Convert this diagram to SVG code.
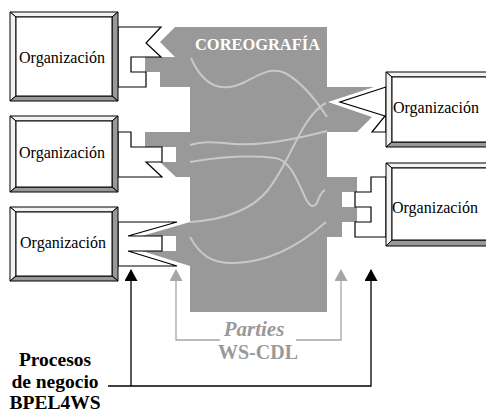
<svg xmlns="http://www.w3.org/2000/svg" width="486" height="412" viewBox="0 0 486 412">
<style>
.lt{fill:#f2f2f2;stroke:#000;stroke-width:1}
.dk{fill:#999;stroke:#000;stroke-width:1}
.in{fill:#fff;stroke:#000;stroke-width:1}
.port{fill:#fff;stroke:#000;stroke-width:1.2;stroke-linejoin:miter}
.serif{font-family:"Liberation Serif","Tinos","Times New Roman","DejaVu Serif",serif}
.org{font-size:16px;fill:#000}
.curve{fill:none;stroke:#c8c8c8;stroke-width:2}
.blk{fill:none;stroke:#000;stroke-width:1.3}
.gry{fill:none;stroke:#a6a6a6;stroke-width:1.3}
.lbl{font-weight:bold;font-size:19.5px;fill:#000}
</style>
<defs>
<marker id="ab" markerWidth="13" markerHeight="13" refX="6.5" refY="1" orient="0" markerUnits="userSpaceOnUse" viewBox="0 0 13 13"><path d="M0,12 L6.5,0 L13,12 Z" fill="#000"/></marker>
<marker id="ag" markerWidth="13" markerHeight="13" refX="6.5" refY="1" orient="0" markerUnits="userSpaceOnUse" viewBox="0 0 13 13"><path d="M0,12 L6.5,0 L13,12 Z" fill="#a6a6a6"/></marker>
</defs>
<rect width="486" height="412" fill="#fff"/>

<g id="coreografia">
<polygon fill="#999" points="175,27 327,27 327,87 374,87 328,102 372,117 357,132 327,132 327,177 357,177 357,192 342,192 342,207 357,207 357,222 342,222 342,237 327,237 327,312 190,312 190,266 142,251 176,251 176,236 142,236 190,222 190,177 176,177 160,162 176,162 176,147 145,147 145,132 190,132 190,87 160,87 160,72 145,72 145,57 175,57 160,42"/>
<text class="serif" x="195" y="50" font-weight="bold" font-size="17" fill="#fff" textLength="125" lengthAdjust="spacingAndGlyphs">COREOGRAFÍA</text>
<path class="curve" d="M191,58 C205,90 225,92 245,82 C262,73 272,67 285,73 C302,82 316,100 327,117"/>
<path class="curve" d="M190,222 C220,220 250,212 268,190 C285,168 295,140 305,125 C312,114 318,107 326,103"/>
<path class="curve" d="M190,237 C200,255 212,264 235,263 C270,262 300,245 326,222"/>
<path class="curve" d="M190,145 C205,140 220,143 235,144 C260,146 300,138 327,131"/>
<path class="curve" d="M190,162 C220,157 250,155 275,158 C290,160 297,180 305,197 C309,206 313,209 317,203 C319,197 321,192 325,190"/>
</g>

<g id="org1">
<polygon class="port" points="118,27 161,27 146,43 161,57 131,57 131,72 146,72 146,87 118,87"/>
<polygon class="lt" points="10,12 118,12 112,17 16,17"/>
<polygon class="lt" points="10,12 16,17 16,96 10,101"/>
<polygon class="dk" points="118,12 118,101 112,96 112,17"/>
<polygon class="dk" points="10,101 16,96 112,96 118,101"/>
<rect class="in" x="16" y="17" width="96" height="79"/>
<text class="serif org" x="62" y="63" text-anchor="middle">Organización</text>
</g>

<g id="org2">
<polygon class="port" points="118,132 131,132 131,147 162,147 162,162 146,162 162,177 118,177"/>
<polygon class="lt" points="10,116 118,116 112,121 16,121"/>
<polygon class="lt" points="10,116 16,121 16,187 10,192"/>
<polygon class="dk" points="118,116 118,192 112,187 112,121"/>
<polygon class="dk" points="10,192 16,187 112,187 118,192"/>
<rect class="in" x="16" y="121" width="96" height="66"/>
<text class="serif org" x="62" y="158" text-anchor="middle">Organización</text>
</g>

<g id="org3">
<polygon class="port" points="118,222 177,222 128,236 162,236 162,251 128,251 177,266 118,266"/>
<polygon class="lt" points="10,207 118,207 112,212 16,212"/>
<polygon class="lt" points="10,207 16,212 16,276 10,281"/>
<polygon class="dk" points="118,207 118,281 112,276 112,212"/>
<polygon class="dk" points="10,281 16,276 112,276 118,281"/>
<rect class="in" x="16" y="212" width="96" height="64"/>
<text class="serif org" x="63" y="248" text-anchor="middle">Organización</text>
</g>

<g id="org4">
<polygon class="port" points="386,87 340,102 385,116 372,132 386,132"/>
<polygon class="lt" points="386,72 496,72 490,77 392,77"/>
<polygon class="lt" points="386,72 392,77 392,142 386,147"/>
<polygon class="dk" points="386,147 392,142 490,142 496,147"/>
<rect class="in" x="392" y="77" width="98" height="65"/>
<text class="serif org" x="393" y="113">Organización</text>
</g>

<g id="org5">
<polygon class="port" points="386,177 371,177 371,192 355,192 355,207 371,207 371,222 355,222 355,237 386,237"/>
<polygon class="lt" points="386,163 496,163 490,168 392,168"/>
<polygon class="lt" points="386,163 392,168 392,240 386,246"/>
<polygon class="dk" points="386,246 392,240 490,240 496,246"/>
<rect class="in" x="392" y="168" width="98" height="72"/>
<text class="serif org" x="392" y="213">Organización</text>
</g>

<g id="connectors">
<path class="blk" d="M131,386 V270" marker-end="url(#ab)"/>
<path class="blk" d="M108,386 H371 V270" marker-end="url(#ab)"/>
<path class="gry" d="M220,340 H176 V270" marker-end="url(#ag)"/>
<path class="gry" d="M296,340 H341 V270" marker-end="url(#ag)"/>
</g>

<g id="labels">
<text class="serif" x="254" y="336" font-weight="bold" font-style="italic" font-size="21" fill="#999" text-anchor="middle">Parties</text>
<text class="serif" x="258" y="359" font-weight="bold" font-size="20" fill="#999" text-anchor="middle">WS-CDL</text>
<text class="serif lbl" x="55" y="366" text-anchor="middle">Procesos</text>
<text class="serif lbl" x="55" y="388" text-anchor="middle">de negocio</text>
<text class="serif lbl" x="55" y="409" text-anchor="middle">BPEL4WS</text>
</g>
</svg>
